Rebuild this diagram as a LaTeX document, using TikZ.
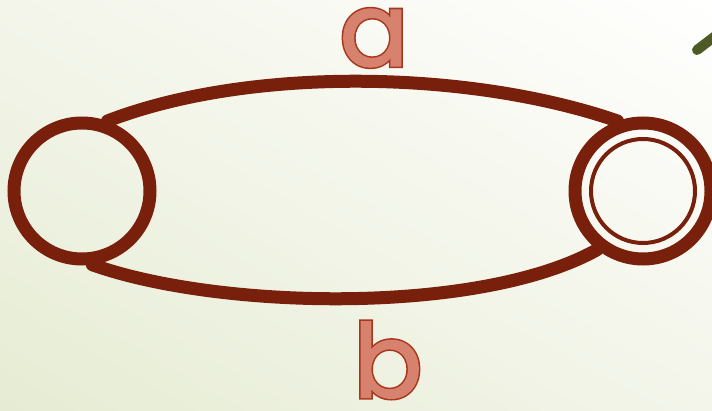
\documentclass[tikz,border=0pt]{standalone}
\usepackage{fontspec}
\usetikzlibrary{shadings}
\newfontfamily\popfill{Poppins}[FakeBold=1.5]
\newfontfamily\popedge{Poppins}[FakeBold=4.5]
\definecolor{edgebrown}{HTML}{78200C}
\definecolor{letterbrown}{HTML}{A8361C}
\definecolor{letterfill}{HTML}{D6826E}
\definecolor{olivebar}{HTML}{4E5A25}
\definecolor{bgA}{HTML}{E6ECD3}
\definecolor{bgB}{HTML}{F3F5EA}
\definecolor{bgC}{HTML}{FFFFFE}
\tikzset{
  state/.style={circle, draw=edgebrown, line width=13pt, inner sep=0pt, minimum size=136pt},
  accring/.style={circle, draw=edgebrown, line width=4pt, inner sep=0pt, minimum size=104pt},
  trans/.style={draw=edgebrown, line width=13pt, line cap=round},
  lblout/.style={text=letterbrown, font=\popedge\fontsize{102}{102}\selectfont, inner sep=0pt},
  lblin/.style={text=letterfill, font=\popfill\fontsize{102}{102}\selectfont, inner sep=0pt},
}
\begin{document}
\begin{tikzpicture}[x=1pt,y=-1pt]
\shade[lower left=bgA, upper left=bgB, lower right=bgB, upper right=bgC] (0,411) rectangle (712,0);
\useasboundingbox (0,0) rectangle (712,411);
\coordinate (o1) at (697,50);
\coordinate (o2) at (718,34);
\draw[olivebar, line width=10pt, line cap=round] (o1) -- (o2);
\node[state] (L) at (82,191) {};
\node[state] (R) at (643,191) {};
\node[accring] (Ri) at (643,191) {};
\draw[trans] (L.70) .. controls (250,66) and (470,70) .. (R.110);
\draw[trans] (L.-82) .. controls (220,310) and (480,315) .. (R.-128);
\node[lblout] (aout) at (374,38) {a};
\node[lblin] (ain) at (374,38) {a};
\node[lblout] (bout) at (388,360) {b};
\node[lblin] (bin) at (388,360) {b};
\end{tikzpicture}
\end{document}
